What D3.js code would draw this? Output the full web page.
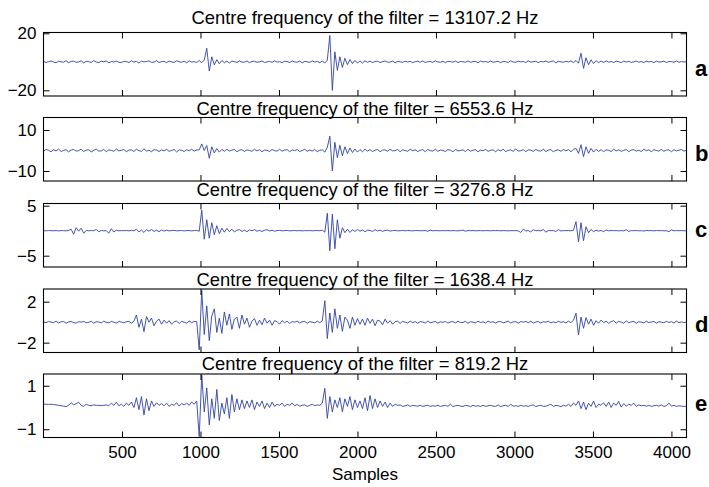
<!DOCTYPE html>
<html><head><meta charset="utf-8">
<script src="https://cdn.jsdelivr.net/npm/d3@7"></script>
<style>body{margin:0;background:#fff}svg{display:block}</style>
</head><body><svg id="chart" width="709" height="487"></svg>
<script>
// ---- data (one value every 16 samples) ----
const sampleStep = 16;
const seriesA = [
0.3,-0.5,0.1,0.6,-0.2,-0.7,0.4,0.0,-0.3,0.8,-0.6,0.2,0.5,-0.4,-0.1,0.7,
-0.8,0.3,0.1,-0.4,0.9,-0.2,-0.5,0.4,0.0,0.6,-0.7,0.2,-0.1,0.5,-0.3,-0.6,
0.4,0.1,-0.5,0.7,-0.2,0.3,-0.9,0.5,-0.1,0.2,0.6,-0.4,-0.2,0.8,-0.5,0.1,
0.3,-0.6,0.5,-0.1,-0.4,0.7,0.0,-0.3,0.4,-0.7,0.6,-0.2,0.1,-0.5,0.9,-0.6,
1.2,9.5,-6.5,3.5,-2.2,1.5,-1.4,0.9,-0.6,0.4,-0.8,0.5,0.1,-0.4,0.6,-0.3,
-0.2,0.5,-0.6,0.2,0.4,-0.3,0.0,0.6,-0.5,-0.1,0.3,-0.4,0.7,-0.2,0.1,-0.6,
0.4,0.2,-0.5,0.6,-0.1,-0.3,0.5,-0.7,0.3,0.0,-0.4,0.6,-0.2,0.3,-0.6,0.5,
-0.8,1.2,18.5,-20,7,-6,3.5,-4,2.5,-2,1.6,-1.2,1.0,-0.9,0.6,-0.8,
0.7,-0.4,0.5,-0.6,0.2,0.4,-0.5,0.1,0.6,-0.3,-0.2,0.5,-0.7,0.3,0.0,-0.4,
0.5,-0.2,0.3,-0.6,0.1,0.4,-0.3,0.6,-0.5,0.0,0.2,-0.4,0.7,-0.1,-0.3,0.4,
-0.6,0.3,0.1,-0.2,0.5,-0.5,0.2,0.0,-0.3,0.6,-0.4,0.1,0.3,-0.7,0.5,-0.1,
0.2,-0.4,0.6,-0.3,0.0,0.4,-0.6,0.3,0.1,-0.5,0.7,-0.2,-0.3,0.5,-0.1,0.2,
-0.5,0.6,-0.2,0.1,0.4,-0.6,0.3,-0.1,0.5,-0.4,0.2,0.6,-0.7,0.3,0.0,-0.3,
0.4,-0.2,0.6,-0.5,0.9,-1.0,6,-4.6,2.8,-2.0,1.4,-1.2,0.8,-0.6,0.5,-0.4,
0.6,-0.3,0.2,-0.5,0.4,0.1,-0.6,0.5,-0.2,0.3,-0.4,0.0,0.5,-0.3,0.2,-0.5,
0.4,-0.1,0.3,-0.6,0.5,-0.2,0.0,0.4,-0.5,0.2,0.1,-0.3,0.6,-0.4,0.2,-0.1,
0.1];
const seriesB = [
-0.4,0.5,0.1,-0.6,0.3,-0.2,0.7,-0.5,0.0,0.4,-0.7,0.2,0.5,-0.3,-0.1,0.6,
-0.5,0.2,0.4,-0.7,0.1,0.6,-0.3,-0.2,0.5,-0.6,0.3,0.0,-0.4,0.7,-0.2,0.1,
0.5,-0.6,0.2,0.3,-0.5,0.6,-0.1,-0.4,0.8,-0.3,0.1,-0.6,0.4,0.2,-0.5,0.3,
-0.2,0.6,-0.4,0.0,0.5,-0.7,0.3,0.1,-0.5,0.4,-0.2,0.6,-0.3,0.2,0.3,3.2,
0.0,2.4,-3.8,1.8,-1.2,0.9,-0.8,0.5,-0.4,0.6,-0.3,0.2,0.5,-0.6,0.1,0.4,
-0.5,0.3,0.0,-0.4,0.6,-0.2,0.4,-0.6,0.2,0.1,-0.5,0.5,-0.1,-0.3,0.6,-0.4,
0.2,0.4,-0.6,0.3,-0.1,0.5,-0.5,0.0,0.6,-0.4,0.2,-0.3,0.5,-0.6,0.1,0.3,
-0.8,1.5,7,-10,4,-3.5,2.5,-2.6,1.8,-1.5,1.2,-1.0,0.7,-0.8,0.5,-0.6,
0.6,-0.3,0.4,-0.5,0.1,0.5,-0.6,0.2,0.3,-0.4,0.6,-0.2,-0.1,0.5,-0.6,0.3,
0.0,-0.4,0.6,-0.2,0.3,-0.5,0.1,0.4,-0.6,0.5,-0.1,-0.3,0.6,-0.4,0.2,0.0,
-0.5,0.4,0.2,-0.6,0.5,-0.2,0.0,0.3,-0.5,0.6,-0.3,0.1,0.4,-0.6,0.2,-0.1,
0.5,-0.4,0.1,0.3,-0.6,0.4,-0.2,0.6,-0.5,0.0,0.3,-0.4,0.7,-0.3,-0.1,0.4,
-0.6,0.3,0.2,-0.4,0.5,-0.1,-0.3,0.6,-0.5,0.2,0.4,-0.6,0.1,0.3,-0.4,0.5,
-0.2,0.4,-0.6,0.5,1.0,-1.4,2.8,-3,1.8,-1.4,1.0,-0.8,0.6,-0.5,0.4,-0.6,
0.3,0.1,-0.5,0.6,-0.2,0.3,-0.4,0.0,0.5,-0.6,0.2,0.4,-0.3,0.1,-0.5,0.6,
-0.1,0.3,-0.6,0.4,0.0,-0.3,0.5,-0.4,0.2,0.3,-0.6,0.4,-0.2,0.1,0.5,-0.3,
0.1];
const seriesC = [
0.02,-0.03,0.04,0.0,-0.02,0.03,-0.04,0.02,0.0,-0.03,0.05,0.3,-0.7,0.6,-0.1,0.5,
-0.5,0.05,-0.02,0.03,0.0,0.25,-0.2,0.04,-0.03,0.02,-0.5,0.4,-0.25,0.1,-0.03,0.02,
0.0,0.04,-0.03,0.05,-0.02,0.3,-0.25,0.15,-0.35,0.2,-0.1,0.25,-0.15,0.1,-0.2,0.15,
-0.08,0.1,-0.03,0.02,0.05,-0.03,0.0,0.04,-0.05,0.02,0.03,-0.04,0.02,0.06,-0.1,4.1,
-1.7,2.2,-1.5,1.6,-0.8,1.0,-0.6,0.5,-0.3,0.45,-0.2,0.3,-0.25,0.1,0.2,-0.15,
0.1,-0.2,0.15,0.0,0.2,-0.1,0.05,-0.15,0.1,0.2,-0.05,0.1,-0.1,0.03,0.05,-0.02,
0.02,0.05,-0.03,0.0,0.04,-0.02,0.03,-0.04,0.02,0.0,0.03,-0.03,0.02,0.04,-0.02,0.1,
-0.3,3.5,-4,3.3,-3.6,2.2,-1.5,0.6,-0.4,0.3,-0.35,0.2,-0.15,0.25,-0.1,0.15,
-0.2,0.1,0.05,-0.15,0.2,-0.05,0.1,-0.12,0.05,0.1,-0.08,0.02,0.05,-0.03,0.0,0.04,
-0.02,0.03,0.0,-0.03,0.02,0.04,-0.02,0.0,0.03,-0.12,0.1,-0.02,0.03,0.0,-0.02,0.02,
0.0,0.03,-0.02,0.02,0.0,-0.03,0.02,0.12,-0.1,0.02,0.0,0.03,-0.02,0.0,0.02,-0.02,
0.03,0.0,-0.02,0.02,0.0,0.03,-0.02,0.02,0.0,-0.03,0.02,0.0,0.02,-0.03,-0.35,0.3,
-0.05,0.02,-0.25,0.2,0.0,0.02,-0.02,0.25,-0.3,0.05,0.0,0.02,-0.15,0.2,-0.05,0.02,
0.0,0.03,-0.02,0.1,1.8,-2.2,1.6,-2,0.8,-0.4,0.25,-0.2,0.1,-0.08,0.05,-0.2,
0.15,-0.02,0.03,0.0,0.02,-0.03,0.02,-0.05,0.2,-0.15,0.02,0.0,0.03,-0.02,0.0,-0.08,
0.05,0.0,0.02,-0.02,0.03,0.0,0.02,-0.03,0.0,-0.2,0.18,-0.02,0.02,0.0,0.02,-0.01,
0.0];
const seriesD = [
0.03,-0.06,0.08,0.0,-0.05,0.1,-0.08,0.04,0.06,-0.1,0.02,0.07,-0.04,-0.09,0.05,0.0,
0.08,-0.05,-0.02,0.09,-0.1,0.04,0.02,-0.07,0.1,-0.03,-0.06,0.08,0.0,-0.08,0.06,0.02,
-0.07,0.05,0.08,-0.1,0.1,0.7,-0.5,0.3,-0.93,0.55,0.0,0.4,-0.35,0.1,0.3,-0.2,
0.2,-0.1,0.15,-0.2,0.05,0.1,-0.12,0.08,0.0,-0.1,0.12,-0.05,0.08,0.05,-2.7,3.1,
-1.2,1.6,-1.8,0.6,1.3,-1.0,0.4,-1.1,1.0,-0.3,0.8,-0.7,0.3,0.5,-0.6,0.7,
-0.2,0.4,-0.5,0.1,0.35,-0.3,0.2,-0.25,0.4,-0.1,0.2,-0.3,0.15,0.05,-0.2,0.15,
-0.05,0.1,-0.12,0.06,0.0,0.1,-0.08,0.04,0.08,-0.1,0.05,0.0,-0.07,0.1,-0.05,0.15,
2.1,-1.6,0.9,-1.0,1.3,-0.6,0.7,-0.9,0.5,0.2,-0.6,0.5,-0.3,0.35,-0.2,0.3,
-0.3,0.4,-0.1,0.3,-0.35,0.2,0.1,-0.25,0.3,-0.1,0.15,-0.2,0.05,0.1,-0.12,0.08,
0.0,-0.08,0.1,-0.04,0.06,-0.1,0.05,0.02,-0.08,0.1,-0.06,0.0,0.08,-0.1,0.04,-0.02,
0.07,-0.09,0.03,0.06,-0.07,0.1,-0.04,-0.02,0.08,-0.1,0.05,0.0,-0.06,0.09,-0.03,0.04,
-0.08,0.1,-0.02,0.05,-0.09,0.04,0.07,-0.06,0.0,0.1,-0.08,0.03,0.05,-0.1,0.06,0.0,
0.08,-0.05,0.1,-0.09,0.02,0.06,-0.08,0.04,0.0,0.1,-0.07,0.03,-0.05,0.09,-0.02,0.05,
-0.08,0.1,-0.05,0.2,0.87,-1.25,0.5,-0.6,0.45,-0.2,0.3,-0.3,0.15,-0.1,0.2,-0.05,
0.1,-0.12,0.05,0.15,-0.1,0.08,0.0,-0.1,0.12,-0.05,0.03,0.08,-0.1,0.05,0.0,-0.06,
0.09,-0.04,0.02,0.07,-0.09,0.05,0.0,-0.06,0.08,-0.03,0.05,-0.08,0.1,-0.04,0.02,-0.03,
0.0];
const seriesE = [
0.15,0.15,0.14,0.15,0.13,0.12,0.1,0.08,0.06,0.04,0.1,0.22,0.12,0.18,0.24,0.1,
0.05,0.15,0.1,0.08,0.12,0.1,0.1,0.09,0.1,0.12,0.08,0.2,0.1,0.24,0.08,0.15,
0.05,0.2,0.1,0.25,0.0,0.45,-0.1,0.5,-0.34,0.4,-0.15,0.3,0.05,0.22,0.1,0.18,
0.08,0.2,0.05,0.15,0.1,0.22,0.06,0.18,0.12,0.2,0.1,0.25,0.15,0.3,-1.34,1.49,
-0.2,0.9,-0.8,0.4,-0.5,0.83,-0.6,0.2,-0.3,0.45,-0.5,0.6,-0.2,0.4,-0.1,0.35,
-0.05,0.3,0.0,0.35,-0.1,0.25,0.05,0.3,-0.05,0.2,0.0,0.25,0.05,0.15,0.1,0.2,
0.05,0.15,0.1,0.2,0.08,0.14,0.06,0.1,0.12,0.05,0.1,0.15,0.08,0.12,0.1,0.2,
0.88,-0.5,0.5,-0.2,0.35,0.0,0.45,-0.2,0.4,0.05,0.5,-0.1,0.35,0.0,0.3,-0.05,
0.45,-0.15,0.55,-0.05,0.4,0.0,0.3,0.05,0.25,0.0,0.2,0.05,0.15,0.1,0.12,0.05,
0.08,0.12,0.05,0.1,0.08,0.06,0.1,0.05,0.08,0.1,0.05,0.08,0.06,0.1,0.05,0.08,
0.1,0.05,0.15,0.04,0.08,0.1,0.06,0.05,0.1,0.08,0.04,0.1,0.06,0.08,0.05,0.1,
0.05,0.08,0.1,0.06,0.05,0.12,0.04,0.08,0.1,0.05,0.15,0.06,0.08,0.05,0.1,0.06,
0.08,0.05,0.1,0.12,0.04,0.08,0.1,0.05,0.06,0.1,0.15,0.05,0.1,0.08,0.04,0.1,
0.06,0.15,0.05,0.2,0.1,0.3,-0.05,0.25,-0.1,0.2,0.05,0.3,0.0,0.15,0.1,0.22,
0.05,0.25,0.0,0.2,0.1,0.28,0.02,0.18,0.06,0.15,0.1,0.2,0.05,0.12,0.08,0.1,
0.06,0.1,0.05,0.08,0.1,0.06,0.12,0.05,0.08,0.2,0.06,0.1,0.05,0.08,0.06,0.05,
0.05];
const panelTitles = [
  "Centre frequency of the filter = 13107.2 Hz",
  "Centre frequency of the filter = 6553.6 Hz",
  "Centre frequency of the filter = 3276.8 Hz",
  "Centre frequency of the filter = 1638.4 Hz",
  "Centre frequency of the filter = 819.2 Hz"];
const panelLetters = ["a","b","c","d","e"];
const yTickValues = [[-20,20],[-10,10],[-5,5],[-2,2],[-1,1]];
const yDomains = [[-24,20.56],[-14.9,16.1],[-7.26,5.44],[-2.96,3.24],[-1.38,1.54]];
const xDomain = [0,4096];
const xTickValues = [500,1000,1500,2000,2500,3000,3500,4000];
const xAxisLabel = "Samples";
const allSeries = [seriesA, seriesB, seriesC, seriesD, seriesE];

// ---- layout ----
const FONT = "'Liberation Sans', Arial, Helvetica, sans-serif";
const left = 43.5, right = 686.5, panelH = 63.5;
const panelTops = [32.5, 117.5, 203.5, 289, 374];
const titleBaselines = [23.5, 115, 196, 286, 370];
const letterBaselines = [76, 161, 237, 332, 411];
const lineColor = "#2f42a6";
const fmt = d3.format("d");

const svg = d3.select("#chart");
const x = d3.scaleLinear().domain(xDomain).range([left, right]);

allSeries.forEach((series, p) => {
  const top = panelTops[p], bottom = top + panelH;
  const y = d3.scaleLinear().domain(yDomains[p]).range([bottom, top]);
  const g = svg.append("g");

  g.append("clipPath").attr("id", "clip" + p)
    .append("rect").attr("x", left).attr("y", top).attr("width", right - left).attr("height", panelH);

  const line = d3.line().x((d, i) => x(i * sampleStep)).y(d => y(d));
  g.append("path").datum(series)
    .attr("clip-path", `url(#clip${p})`)
    .attr("fill", "none").attr("stroke", lineColor).attr("stroke-width", 0.9)
    .attr("stroke-linejoin", "round")
    .attr("d", line);

  const styleAxis = sel => {
    sel.select(".domain").remove();
    sel.selectAll("line").attr("stroke", "#000").attr("stroke-width", 1);
    sel.selectAll("text").attr("fill", "#000").style("font-family", FONT).style("font-size", "17px");
  };

  g.append("g").attr("transform", `translate(${left},0)`)
    .call(d3.axisLeft(y).tickValues(yTickValues[p]).tickFormat(fmt).tickSizeInner(-6).tickSizeOuter(0).tickPadding(7))
    .call(styleAxis);
  g.append("g").attr("transform", `translate(${right},0)`)
    .call(d3.axisRight(y).tickValues(yTickValues[p]).tickSizeInner(-6).tickSizeOuter(0).tickFormat(""))
    .call(styleAxis);
  g.append("g").attr("transform", `translate(0,${top})`)
    .call(d3.axisTop(x).tickValues(xTickValues).tickSizeInner(-6).tickSizeOuter(0).tickFormat(""))
    .call(styleAxis);
  const bottomAxis = d3.axisBottom(x).tickValues(xTickValues).tickSizeInner(-6).tickSizeOuter(0).tickPadding(8.5)
    .tickFormat(p === allSeries.length - 1 ? fmt : "");
  g.append("g").attr("transform", `translate(0,${bottom})`)
    .call(bottomAxis).call(styleAxis);

  g.append("rect").attr("x", left).attr("y", top).attr("width", right - left).attr("height", panelH)
    .attr("fill", "none").attr("stroke", "#000").attr("stroke-width", 1.1);

  svg.append("text").attr("x", (left + right) / 2).attr("y", titleBaselines[p])
    .attr("text-anchor", "middle").style("font-family", FONT).style("font-size", "18.4px")
    .text(panelTitles[p]);

  svg.append("text").attr("x", 695).attr("y", letterBaselines[p])
    .style("font-family", FONT).style("font-size", "22px").style("font-weight", "bold")
    .text(panelLetters[p]);
});

svg.append("text").attr("x", (left + right) / 2).attr("y", 480)
  .attr("text-anchor", "middle").style("font-family", FONT).style("font-size", "17px")
  .text(xAxisLabel);
</script>
</body></html>
